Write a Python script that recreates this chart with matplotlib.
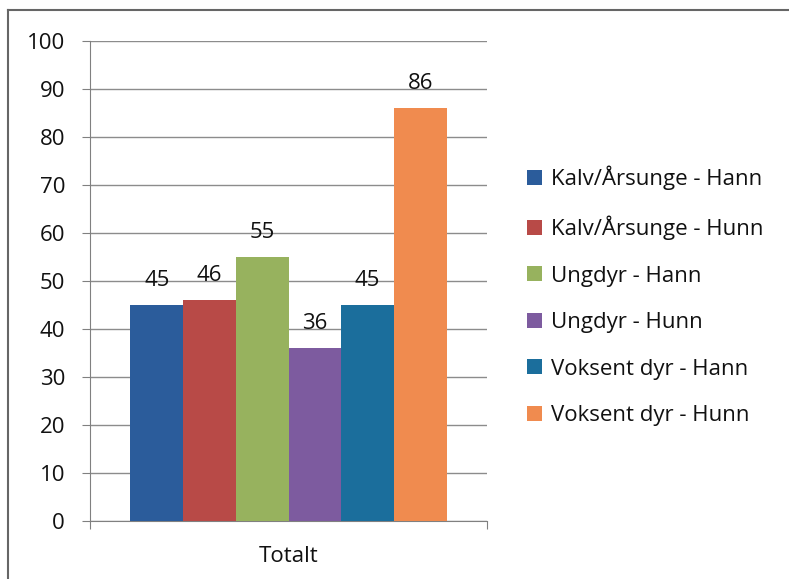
import matplotlib
matplotlib.use("Agg")
import matplotlib.pyplot as plt
from matplotlib.lines import Line2D
from matplotlib.patches import Patch

# data
categories = ["Kalv/Årsunge - Hann", "Kalv/Årsunge - Hunn", "Ungdyr - Hann",
              "Ungdyr - Hunn", "Voksent dyr - Hann", "Voksent dyr - Hunn"]
values = [45, 46, 55, 36, 45, 86]
colors = ["#2B5C9B", "#B84A47", "#97B25E", "#7D5B9F", "#1B6E9C", "#F08B4F"]
group_label = "Totalt"
yticks = list(range(0, 101, 10))

plt.rcParams["font.family"] = ["Open Sans", "DejaVu Sans"]
txt = "#111111"

fig = plt.figure(figsize=(7.89, 5.79), dpi=100)
ax = fig.add_axes([0.1141, 0.1002, 0.5032, 0.829])

w = 0.1327
n = len(values)
for i, (v, c) in enumerate(zip(values, colors)):
    x = (i - (n - 1) / 2) * w
    ax.bar(x, v, width=w, color=c, label=categories[i], zorder=3)
    ax.annotate(str(v), (x, v), xytext=(0, 10), textcoords="offset points",
                ha="center", va="bottom", fontsize=16, color=txt, zorder=4)

ax.set_xlim(-0.5, 0.5)
ax.set_ylim(0, 100)
ax.set_yticks(yticks)
ax.tick_params(axis="y", labelsize=16, length=6, color="#808080", pad=12, labelcolor=txt)
ax.set_xticks([-0.5, 0.5])
ax.set_xticklabels(["", ""])
ax.tick_params(axis="x", length=6, color="#808080")
ax.set_xticks([0], minor=True)
ax.set_xticklabels([group_label], minor=True)
ax.tick_params(axis="x", which="minor", length=0, labelsize=16, pad=18, labelcolor=txt)

ax.grid(axis="y", color="#8c8c8c", linewidth=1, zorder=0)
for s in ["top", "right"]:
    ax.spines[s].set_visible(False)
for s in ["left", "bottom"]:
    ax.spines[s].set_color("#808080")

handles = [Patch(facecolor=c, edgecolor="none") for c in colors]
fig.legend(handles, categories, loc="center left", bbox_to_anchor=(0.643, 0.489),
           frameon=False, fontsize=16, labelspacing=1.15, handlelength=0.65,
           handleheight=0.65, handletextpad=0.4, labelcolor=txt)

# outer chart border (scan shows left and top edges)
fig.add_artist(Line2D([8 / 789, 8 / 789], [0, 1 - 10 / 579], color="#666666", lw=1.5))
fig.add_artist(Line2D([8 / 789, 1], [1 - 10 / 579, 1 - 10 / 579], color="#666666", lw=1.5))

fig.savefig("out.png", dpi=100)
